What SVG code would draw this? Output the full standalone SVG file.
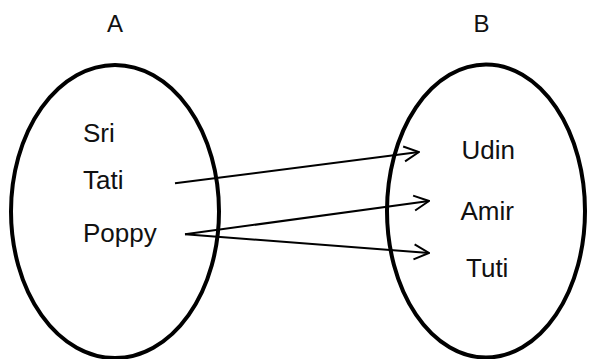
<svg xmlns="http://www.w3.org/2000/svg" width="590" height="359" viewBox="0 0 590 359">
<style>
.set{fill:none;stroke:#000;stroke-width:4}
.t{font-family:"Liberation Sans",Arial,sans-serif;font-size:26px;fill:#111}
.h{font-family:"Liberation Sans",Arial,sans-serif;font-size:24px;fill:#111;text-anchor:middle}
.c{fill:none;stroke:#000;stroke-width:2}
</style>
<defs>
<marker id="arr" viewBox="0 0 18 18" refX="17" refY="9" markerWidth="18" markerHeight="18" markerUnits="userSpaceOnUse" orient="auto">
<path d="M2,1.5 L17,9 L2,16.5" fill="none" stroke="#000" stroke-width="2"/>
</marker>
</defs>
<rect width="590" height="359" fill="#fff"/>
<g id="setA">
<ellipse class="set" cx="115" cy="211.5" rx="104" ry="146.5"/>
<text class="h" x="115" y="32">A</text>
<text class="t" x="83" y="142">Sri</text>
<text class="t" x="83" y="189">Tati</text>
<text class="t" x="83" y="241.5">Poppy</text>
</g>
<g id="setB">
<ellipse class="set" cx="486" cy="211" rx="99" ry="146.5"/>
<text class="h" x="481.5" y="32">B</text>
<text class="t" x="461.5" y="158.5">Udin</text>
<text class="t" x="460.5" y="220">Amir</text>
<text class="t" x="466" y="276.5">Tuti</text>
</g>
<g id="connectors">
<line class="c" x1="175" y1="183.3" x2="419" y2="152" marker-end="url(#arr)"/>
<line class="c" x1="185" y1="234.3" x2="429" y2="201" marker-end="url(#arr)"/>
<line class="c" x1="185" y1="234.3" x2="429" y2="253" marker-end="url(#arr)"/>
</g>
</svg>
